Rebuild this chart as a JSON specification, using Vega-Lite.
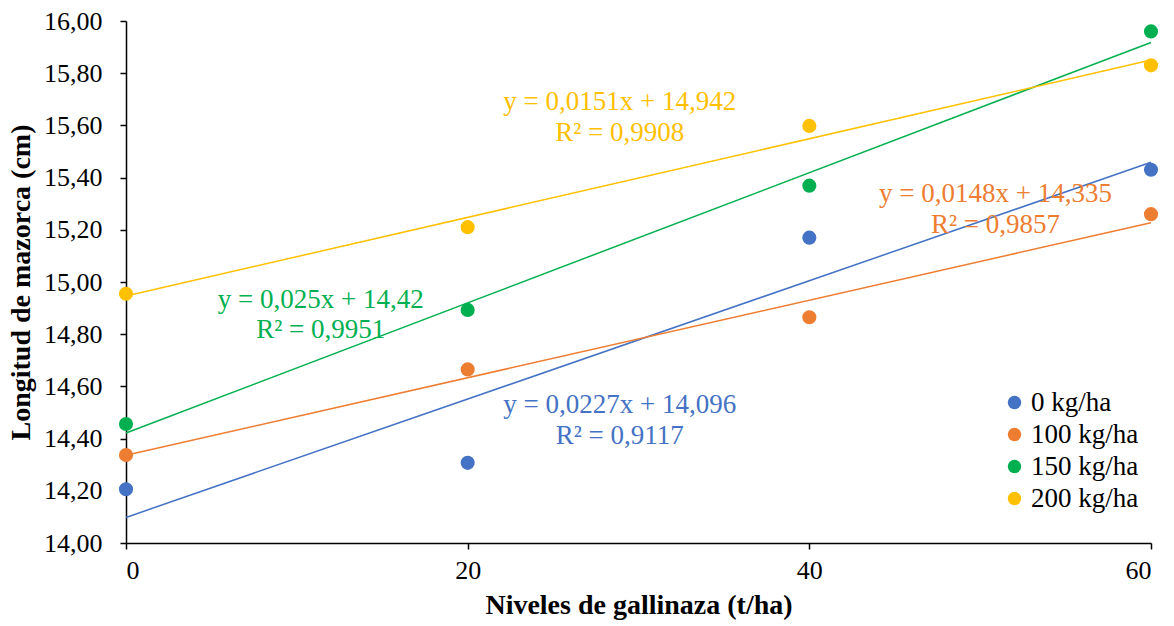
{
  "$schema": "https://vega.github.io/schema/vega-lite/v6.json",
  "width": 1025,
  "height": 522,
  "autosize": "none",
  "padding": {"left": 126, "top": 21, "right": 23, "bottom": 83},
  "background": "white",
  "config": {
    "locale": {"number": {"decimal": ",", "thousands": ".", "grouping": [3], "currency": ["", " €"]}},
    "view": {"stroke": null},
    "font": "Liberation Serif"
  },
  "datasets": {
    "pts": [
      {"x": 0, "y": 14.206, "series": "0 kg/ha"},
      {"x": 20, "y": 14.307, "series": "0 kg/ha"},
      {"x": 40, "y": 15.17, "series": "0 kg/ha"},
      {"x": 60, "y": 15.43, "series": "0 kg/ha"},
      {"x": 0, "y": 14.337, "series": "100 kg/ha"},
      {"x": 20, "y": 14.665, "series": "100 kg/ha"},
      {"x": 40, "y": 14.865, "series": "100 kg/ha"},
      {"x": 60, "y": 15.26, "series": "100 kg/ha"},
      {"x": 0, "y": 14.456, "series": "150 kg/ha"},
      {"x": 20, "y": 14.893, "series": "150 kg/ha"},
      {"x": 40, "y": 15.369, "series": "150 kg/ha"},
      {"x": 60, "y": 15.96, "series": "150 kg/ha"},
      {"x": 0, "y": 14.955, "series": "200 kg/ha"},
      {"x": 20, "y": 15.21, "series": "200 kg/ha"},
      {"x": 40, "y": 15.598, "series": "200 kg/ha"},
      {"x": 60, "y": 15.83, "series": "200 kg/ha"}
    ],
    "labels": [
      {"x": 28.9, "y": 14.53, "txt": "y = 0,0227x + 14,096", "series": "0 kg/ha"},
      {"x": 28.9, "y": 14.41, "txt": "R² = 0,9117", "series": "0 kg/ha"},
      {"x": 50.9, "y": 15.337, "txt": "y = 0,0148x + 14,335", "series": "100 kg/ha"},
      {"x": 50.9, "y": 15.218, "txt": "R² = 0,9857", "series": "100 kg/ha"},
      {"x": 11.4, "y": 14.93, "txt": "y = 0,025x + 14,42", "series": "150 kg/ha"},
      {"x": 11.4, "y": 14.815, "txt": "R² = 0,9951", "series": "150 kg/ha"},
      {"x": 28.9, "y": 15.69, "txt": "y = 0,0151x + 14,942", "series": "200 kg/ha"},
      {"x": 28.9, "y": 15.57, "txt": "R² = 0,9908", "series": "200 kg/ha"}
    ]
  },
  "layer": [
    {
      "data": {"name": "pts"},
      "transform": [{"regression": "y", "on": "x", "groupby": ["series"], "extent": [0, 60]}],
      "mark": {"type": "line", "strokeWidth": 1.5},
      "encoding": {
        "x": {"field": "x", "type": "quantitative"},
        "y": {"field": "y", "type": "quantitative"},
        "color": {"field": "series", "type": "nominal"},
        "detail": {"field": "series"}
      }
    },
    {
      "data": {"name": "pts"},
      "mark": {"type": "point", "filled": true, "opacity": 1, "size": 200, "shape": "circle"},
      "encoding": {
        "x": {
          "field": "x", "type": "quantitative",
          "scale": {"domain": [0, 60], "nice": false},
          "axis": {
            "values": [0, 20, 40, 60], "grid": false, "title": "Niveles de gallinaza (t/ha)",
            "domainColor": "black", "domainWidth": 1.5, "tickColor": "black", "tickSize": 6, "tickWidth": 1.5,
            "labelFont": "Liberation Serif", "labelFontSize": 26, "labelColor": "black", "labelPadding": 8,
            "titleFont": "Liberation Serif", "titleFontSize": 28, "titleFontWeight": "bold", "titleColor": "black", "titlePadding": 8
          }
        },
        "y": {
          "field": "y", "type": "quantitative",
          "scale": {"domain": [14, 16], "nice": false, "zero": false},
          "axis": {
            "values": [14, 14.2, 14.4, 14.6, 14.8, 15, 15.2, 15.4, 15.6, 15.8, 16], "format": ".2f", "grid": false,
            "title": "Longitud de mazorca (cm)",
            "domainColor": "black", "domainWidth": 1.5, "tickColor": "black", "tickSize": 6, "tickWidth": 1.5,
            "labelFont": "Liberation Serif", "labelFontSize": 26, "labelColor": "black", "labelPadding": 18,
            "titleFont": "Liberation Serif", "titleFontSize": 28, "titleFontWeight": "bold", "titleColor": "black", "titlePadding": 8
          }
        },
        "color": {
          "field": "series", "type": "nominal",
          "scale": {"domain": ["0 kg/ha", "100 kg/ha", "150 kg/ha", "200 kg/ha"], "range": ["#4472C4", "#ED7D31", "#00B050", "#FFC000"]},
          "legend": {
            "title": null, "orient": "none", "legendX": 875, "legendY": 368,
            "symbolType": "circle", "symbolSize": 180, "symbolStrokeWidth": 0, "symbolOpacity": 1, "symbolFillColor": null,
            "labelFont": "Liberation Serif", "labelFontSize": 27, "labelColor": "black",
            "rowPadding": 4, "labelOffset": 3
          }
        }
      }
    },
    {
      "data": {"name": "labels"},
      "mark": {"type": "text", "font": "Liberation Serif", "fontSize": 27, "align": "center", "baseline": "middle"},
      "encoding": {
        "x": {"field": "x", "type": "quantitative"},
        "y": {"field": "y", "type": "quantitative"},
        "text": {"field": "txt"},
        "color": {"field": "series", "type": "nominal"}
      }
    }
  ]
}
